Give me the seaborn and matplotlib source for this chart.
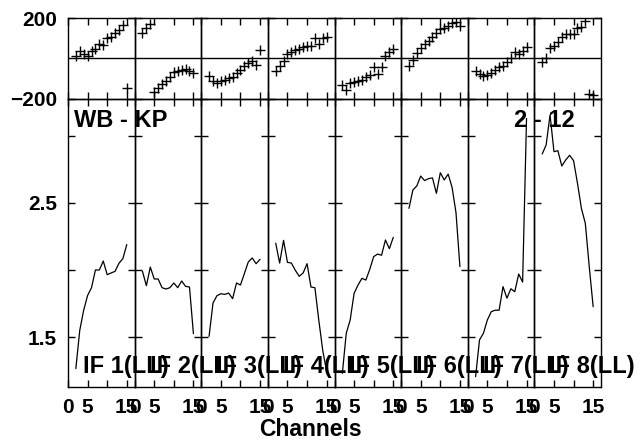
import numpy as np
import pandas as pd
import matplotlib
matplotlib.use("Agg")
import matplotlib.pyplot as plt
import seaborn as sns

# ---------------- data ----------------
channels = list(range(2, 16))
if_labels = ["IF 1(LL)", "IF 2(LL)", "IF 3(LL)", "IF 4(LL)",
             "IF 5(LL)", "IF 6(LL)", "IF 7(LL)", "IF 8(LL)"]

phase_1 = [10, 38, 22, 10, 38, 48, 72, 68, 102, 105, 127, 143, 165, -148]
phase_2 = [128, 153, 170, -165, -145, -125, -112, -90, -68, -60, -57, -52, -60, -72]
phase_3 = [-88, -113, -122, -113, -105, -97, -93, -72, -55, -38, -22, -13, -33, 40]
phase_4 = [-60, -38, -13, 22, 33, 42, 45, 57, 62, 60, 100, 72, 100, 107]
phase_5 = [-133, -157, -123, -117, -113, -107, -93, -80, -42, -75, -43, 10, 32, 49]
phase_6 = [-38, -5, 28, 53, 73, 87, 107, 128, 145, 153, 162, 173, 178, 162]
phase_7 = [-60, -77, -88, -83, -72, -55, -43, -38, -17, 3, 33, 23, 37, 57]
phase_8 = [-17, 0, 50, 62, 83, 107, 120, 120, 123, 150, 157, 183, -175, -180]

amp_1 = [1.264, 1.55, 1.70, 1.81, 1.868, 2.0, 2.0, 2.067, 1.965, 1.978, 1.99, 2.05, 2.085, 2.19]
amp_2 = [1.99, 1.883, 2.022, 1.933, 1.933, 1.868, 1.858, 1.868, 1.903, 1.868, 1.918, 1.878, 1.873, 1.525]
amp_3 = [1.505, 1.754, 1.808, 1.823, 1.818, 1.828, 1.786, 1.903, 1.888, 1.973, 2.06, 2.09, 2.047, 2.08]
amp_4 = [2.20, 2.052, 2.221, 2.057, 2.052, 1.998, 1.953, 1.978, 2.047, 1.873, 1.868, 1.624, 1.40, 1.24]
amp_5 = [1.229, 1.528, 1.627, 1.826, 1.888, 1.938, 1.925, 2.005, 2.10, 2.119, 2.11, 2.224, 2.159, 2.244]
amp_6 = [2.46, 2.597, 2.627, 2.701, 2.667, 2.682, 2.687, 2.572, 2.726, 2.672, 2.716, 2.617, 2.428, 2.025]
amp_7 = [1.204, 1.478, 1.528, 1.627, 1.689, 1.70, 1.70, 1.876, 1.79, 1.86, 1.838, 1.97, 1.91, 3.13]
amp_8 = [2.866, 2.933, 3.157, 2.883, 2.89, 2.776, 2.821, 2.856, 2.816, 2.647, 2.46, 2.348, 2.025, 1.726]

phases = [phase_1, phase_2, phase_3, phase_4, phase_5, phase_6, phase_7, phase_8]
amps = [amp_1, amp_2, amp_3, amp_4, amp_5, amp_6, amp_7, amp_8]

rows = []
for k in range(8):
    for c, p, a in zip(channels, phases[k], amps[k]):
        rows.append({"IF": k, "channel": c, "phase": p, "amp": a})
df = pd.DataFrame(rows)

# ---------------- style ----------------
sns.set_theme(style="white")
plt.rcParams["font.family"] = ["Liberation Sans", "DejaVu Sans"]
plt.rcParams["font.weight"] = "bold"
plt.rcParams["text.color"] = "black"
plt.rcParams["axes.labelcolor"] = "black"
plt.rcParams["xtick.color"] = "black"
plt.rcParams["ytick.color"] = "black"
plt.rcParams["axes.unicode_minus"] = True

W_PX, H_PX = 639, 440
fig = plt.figure(figsize=(W_PX / 100, H_PX / 100), dpi=100)
fig.patch.set_facecolor("white")

left_px, right_px = 68, 601
pw = (right_px - left_px) / 8.0
ph_top, ph_bot = 18, 99
am_top, am_bot = 99, 387

def style_axes(ax):
    ax.patch.set_alpha(0)
    for s in ax.spines.values():
        s.set_color("black")
        s.set_linewidth(1.0)
        s.set_visible(True)
    ax.tick_params(direction="in", length=5, width=1, color="black",
                   top=True, bottom=True, left=True, right=True,
                   labelsize=15, labelcolor="black", pad=8)

for k in range(8):
    x0 = (left_px + k * pw) / W_PX
    w = pw / W_PX
    axp = fig.add_axes([x0, 1 - ph_bot / H_PX, w, (ph_bot - ph_top) / H_PX])
    axa = fig.add_axes([x0, 1 - am_bot / H_PX, w, (am_bot - am_top) / H_PX])
    sub = df[df["IF"] == k]

    # phase panel
    axp.axhline(0, color="black", lw=1.0, zorder=1)
    sns.scatterplot(data=sub, x="channel", y="phase", ax=axp, marker="+",
                    color="black", s=48, linewidth=1.0, legend=False, zorder=3)
    axp.set_xlim(0, 17)
    axp.set_ylim(-200, 200)
    axp.set_xticks([0, 5, 10, 15])
    axp.set_yticks([-200, 200])
    style_axes(axp)
    axp.tick_params(labelbottom=False, labelleft=(k == 0))
    if k == 0:
        axp.set_yticklabels(["\u2212200", "200"], fontweight="bold")
    axp.set_xlabel("")
    axp.set_ylabel("")

    # amplitude panel
    sns.lineplot(data=sub, x="channel", y="amp", ax=axa, color="black",
                 linewidth=0.9, legend=False)
    axa.set_xlim(0, 17)
    axa.set_ylim(1.127, 3.276)
    axa.set_xticks([0, 5, 10, 15])
    axa.set_yticks([1.5, 2.0, 2.5, 3.0])
    style_axes(axa)
    axa.tick_params(labelleft=(k == 0), labelbottom=True)
    axa.set_xticklabels(["0", "5", "", "15"], fontweight="bold")
    if k == 0:
        axa.set_yticklabels(["1.5", "", "2.5", ""], fontweight="bold")
    axa.set_xlabel("")
    axa.set_ylabel("")
    axa.text(3.8, 1.23, if_labels[k], fontsize=17, fontweight="bold",
             color="black", ha="left", va="baseline", clip_on=False, zorder=10)
    if k == 0:
        axa.text(1.5, 3.07, "WB - KP", fontsize=17, fontweight="bold",
                 color="black", ha="left", va="baseline", clip_on=False,
                 zorder=10)

fig.text(575 / W_PX, 1 - 127 / H_PX, "2 - 12", fontsize=17, fontweight="bold",
         color="black", ha="right", va="baseline")
fig.text(310 / W_PX, 1 - 429 / H_PX, "Channels", fontsize=16.5,
         fontweight="bold", color="black", ha="center", va="center")

fig.savefig("out.png", dpi=100, facecolor="white")
